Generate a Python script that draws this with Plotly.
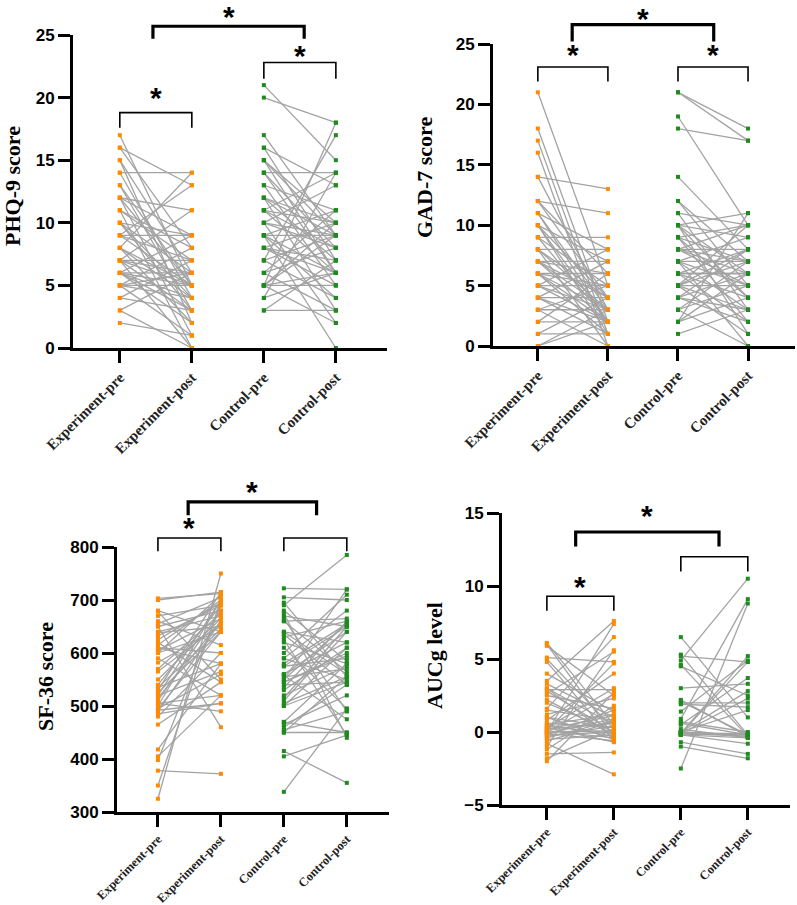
import plotly.graph_objects as go

W, H = 797, 905

categories = ["Experiment-pre", "Experiment-post", "Control-pre", "Control-post"]

# PHQ-9
phq_exp_pre  = [17,16,15,15,14,14,13,12,12,12,11,11,10,10,10,9,9,9,9,8,8,8,7,7,7,7,7,6,6,6,6,6,5,5,5,5,4,4,3,3,2,13,11,16,12,10,8,7,6,5]
phq_exp_post = [5,13,6,2,14,4,3,11,5,1,8,0,9,6,3,13,9,5,7,14,4,2,11,7,6,5,3,9,5,4,6,2,8,6,5,1,7,3,0,6,1,5,7,8,9,4,5,0,3,4]
phq_ctl_pre  = [21,20,17,16,15,15,14,14,13,13,12,12,12,11,11,11,10,10,10,10,9,9,9,9,8,8,8,7,7,7,6,6,5,5,5,5,5,4,4,3,3,15,14,12,11,9,8,6,5,16]
phq_ctl_post = [15,18,9,13,10,6,14,8,11,5,9,7,3,14,10,6,13,9,8,2,9,11,6,0,10,7,5,17,9,4,8,3,18,9,6,5,10,6,14,3,7,9,6,10,8,4,6,11,2,7]

# GAD-7
gad_exp_pre  = [21,18,17,16,14,14,12,12,11,11,11,10,10,10,9,9,9,8,8,8,7,7,7,7,6,6,6,6,5,5,5,5,4,4,4,4,3,3,3,2,2,1,1,0,0,12,10,8,7,6]
gad_exp_post = [5,2,1,0,13,3,11,4,8,2,3,7,4,1,9,5,2,8,3,0,7,6,2,4,6,3,1,5,8,5,2,3,4,7,1,2,3,5,0,2,6,1,4,2,3,6,2,4,3,2]
gad_ctl_pre  = [21,21,19,18,14,12,12,11,11,10,10,10,10,10,9,9,9,8,8,8,8,7,7,7,7,6,6,6,6,5,5,5,5,5,4,4,4,3,3,3,2,2,2,1,8,7,6,5,9,4]
gad_ctl_post = [18,17,10,17,8,7,5,3,10,11,6,4,1,9,7,10,2,8,5,10,6,7,3,9,0,6,4,8,2,10,5,7,3,1,6,8,2,5,7,0,11,6,4,3,7,5,6,8,4,3]

# SF-36
sf_exp_pre  = [325,350,378,398,405,418,465,480,490,492,495,500,505,510,515,520,525,530,535,540,565,570,582,590,600,605,610,615,620,625,632,638,640,650,655,660,670,678,680,700,703,495,505,520,535,550,600,610,650,485]
sf_exp_post = [750,700,372,690,520,580,545,600,660,505,640,700,520,680,660,565,640,715,580,690,655,675,650,520,710,665,600,700,545,695,690,650,670,460,705,615,690,550,640,715,712,560,490,700,645,665,640,580,680,505]
sf_ctl_pre  = [338,405,415,450,455,460,465,470,500,505,510,515,520,535,540,545,550,555,558,560,575,580,590,600,620,625,630,635,640,660,665,670,675,680,690,695,722,705,560,550,590,500,470,640,660,610,530,575,545,450]
sf_ctl_post = [495,445,355,450,490,540,520,580,610,555,640,650,575,660,545,600,720,570,475,640,590,655,550,710,580,445,660,540,620,565,490,650,440,585,785,555,720,700,620,655,680,545,450,560,665,495,610,650,595,555]

# AUCg
auc_exp_pre  = [6.1,6.0,5.9,5.1,5.0,4.8,3.5,3.3,3.0,2.9,2.8,2.6,2.5,2.2,1.6,1.5,1.2,1.0,0.8,0.6,0.5,0.4,0.3,0.2,0.1,0.0,0.0,-0.1,-0.1,-0.2,0.0,0.1,-0.3,-0.5,-0.6,-0.8,-1.0,-1.2,-1.5,-1.8,-2.0,3.0,2.0,1.0,0.5,0.2,-0.2,4.0,0.3,-0.4]
auc_exp_post = [0.5,-0.3,2.5,4.8,0.2,-0.6,7.6,1.0,-0.4,2.9,0.0,5.5,1.6,-0.2,6.5,0.8,2.3,-0.5,4.0,0.3,1.2,-0.1,3.0,0.6,-0.4,0.1,2.6,0.9,-0.6,1.5,7.4,4.7,0.4,-0.2,0.7,-2.9,5.6,1.8,-1.4,0.2,2.7,0.5,0.0,0.3,-0.3,1.1,0.0,1.4,-0.7,0.8]
auc_ctl_pre  = [6.5,5.3,5.2,4.9,4.5,3.0,2.2,2.0,1.9,1.4,0.9,0.7,0.5,0.0,-0.1,-0.1,-0.2,0.0,-0.1,-0.2,0.0,-0.1,-0.7,-1.0,-2.5,-0.2,0.0,2.1,-0.1,4.6,0.6,-0.1,0.2]
auc_ctl_post = [1.0,-0.2,4.8,10.5,2.5,3.3,-0.3,2.0,1.7,4.9,9.1,0.0,3.7,-0.2,-0.1,-0.3,-0.4,-0.3,-0.2,-0.1,2.8,5.2,-1.5,-1.8,8.8,-0.8,1.5,-0.2,2.3,-0.3,-0.2,4.8,-0.4]

y_titles = ["PHQ-9 score", "GAD-7 score", "SF-36 score", "AUCg level"]
y_ticks = [[0, 5, 10, 15, 20, 25], [0, 5, 10, 15, 20, 25],
           [300, 400, 500, 600, 700, 800], [-5, 0, 5, 10, 15]]

# significance brackets: (x_left, x_right, top, leg_bottom, star_y or None, thick)
brackets = [
    [(0, 1, 18.8, 17.6, 20.0, False), (2, 3, 22.8, 21.5, 23.4, False), (0.46, 2.56, 25.7, 24.7, 26.45, True)],
    [(0, 1, 23.1, 21.9, 24.1, False), (2, 3, 23.1, 21.9, 24.1, False), (0.49, 2.51, 26.6, 25.2, 27.1, True)],
    [(0, 1, 817, 792, 836, False), (2, 3, 817, 792, None, False), (0.48, 2.52, 885, 860, 905, True)],
    [(0, 1, 9.3, 8.3, 10.0, False), (2, 3, 12.0, 11.0, None, False), (0.43, 2.57, 13.7, 12.7, 14.8, True)],
]

# panel geometry in pixels
panels = [
    dict(xpx=(73, 387), ypx=(35, 348), xr=(-0.65, 3.71), yr=(0, 25), title_x=12, title_y=186, xfs=15),
    dict(xpx=(493, 795), ypx=(44, 346), xr=(-0.64, 3.67), yr=(0, 25), title_x=424, title_y=177, xfs=15),
    dict(xpx=(117, 389), ypx=(547, 812), xr=(-0.65, 3.67), yr=(300, 800), title_x=45, title_y=677, xfs=12.5),
    dict(xpx=(502, 790), ypx=(513, 805), xr=(-0.67, 3.63), yr=(-5, 15), title_x=434, title_y=656, xfs=12.5),
]

data = [
    (phq_exp_pre, phq_exp_post, phq_ctl_pre, phq_ctl_post),
    (gad_exp_pre, gad_exp_post, gad_ctl_pre, gad_ctl_post),
    (sf_exp_pre, sf_exp_post, sf_ctl_pre, sf_ctl_post),
    (auc_exp_pre, auc_exp_post, auc_ctl_pre, auc_ctl_post),
]

ORANGE = "#FF8A00"
GREEN = "#1E8B1E"
GRAY = "#A3A3A3"

fig = go.Figure()
shapes = []
annotations = []

def paired(pre, post, i0):
    xs, ys = [], []
    for a, b in zip(pre, post):
        xs += [i0, i0 + 1, None]
        ys += [a, b, None]
    return xs, ys

for k, (p, d) in enumerate(zip(panels, data)):
    n = k + 1
    xa = "x" if n == 1 else f"x{n}"
    ya = "y" if n == 1 else f"y{n}"
    for (pre, post, i0, col) in [(d[0], d[1], 0, ORANGE), (d[2], d[3], 2, GREEN)]:
        xs, ys = paired(pre, post, i0)
        fig.add_trace(go.Scatter(x=xs, y=ys, mode="lines", line=dict(color=GRAY, width=1.3),
                                 xaxis=xa, yaxis=ya, showlegend=False, hoverinfo="skip"))
        fig.add_trace(go.Scatter(x=[i0] * len(pre) + [i0 + 1] * len(post), y=list(pre) + list(post),
                                 mode="markers", marker=dict(symbol="square", size=4, color=col),
                                 xaxis=xa, yaxis=ya, showlegend=False, cliponaxis=False))
    xdom = [p["xpx"][0] / W, p["xpx"][1] / W]
    ydom = [1 - p["ypx"][1] / H, 1 - p["ypx"][0] / H]
    xkey = "xaxis" if n == 1 else f"xaxis{n}"
    ykey = "yaxis" if n == 1 else f"yaxis{n}"
    fig.update_layout(**{
        xkey: dict(domain=xdom, range=list(p["xr"]), anchor=ya, tickmode="array",
                   tickvals=[0, 1, 2, 3], ticktext=categories, tickangle=-45, automargin=False,
                   showline=True, linecolor="black", linewidth=3, ticks="outside",
                   ticklen=12, tickwidth=3, tickcolor="black", showgrid=False, zeroline=False,
                   tickfont=dict(family="Liberation Serif", size=p["xfs"], color="#222", weight="bold")),
        ykey: dict(domain=ydom, range=list(p["yr"]), anchor=xa, tickmode="array", automargin=False,
                   tickvals=y_ticks[k], showline=True, linecolor="black", linewidth=3,
                   ticks="outside", ticklen=12, tickwidth=3, tickcolor="black",
                   showgrid=False, zeroline=False,
                   tickfont=dict(family="Liberation Sans", size=17, color="black", weight="bold")),
    })
    xr0, xr1 = p["xr"]
    yr0, yr1 = p["yr"]
    xd_ref = f"{xa} domain"
    yd_ref = f"{ya} domain"
    def fx(v):
        return (v - xr0) / (xr1 - xr0)
    def fy(v):
        return (v - yr0) / (yr1 - yr0)
    for (bx0, bx1, top, leg, star, thick) in brackets[k]:
        path = (f"M {fx(bx0)} {fy(leg)} L {fx(bx0)} {fy(top)} "
                f"L {fx(bx1)} {fy(top)} L {fx(bx1)} {fy(leg)}")
        shapes.append(dict(type="path", path=path, xref=xd_ref, yref=yd_ref,
                           line=dict(color="black", width=3.2 if thick else 1.6)))
        if star is not None:
            annotations.append(dict(text="*", x=fx((bx0 + bx1) / 2), y=fy(star),
                                    xref=xd_ref, yref=yd_ref, showarrow=False,
                                    xanchor="center", yanchor="middle",
                                    font=dict(family="Liberation Sans", size=30, color="black", weight="bold")))
    annotations.append(dict(text=y_titles[k], x=p["title_x"] / W, y=1 - p["title_y"] / H,
                            xref="paper", yref="paper", showarrow=False, textangle=-90,
                            xanchor="center", yanchor="middle",
                            font=dict(family="Liberation Serif", size=22, color="black", weight="bold")))

fig.update_layout(width=W, height=H, margin=dict(l=0, r=0, t=0, b=0),
                  paper_bgcolor="white", plot_bgcolor="white",
                  shapes=shapes, annotations=annotations, showlegend=False)

fig.write_html("out.html", config={"displayModeBar": False},
               post_script="document.body.style.margin='0';document.body.style.overflow='hidden';")
